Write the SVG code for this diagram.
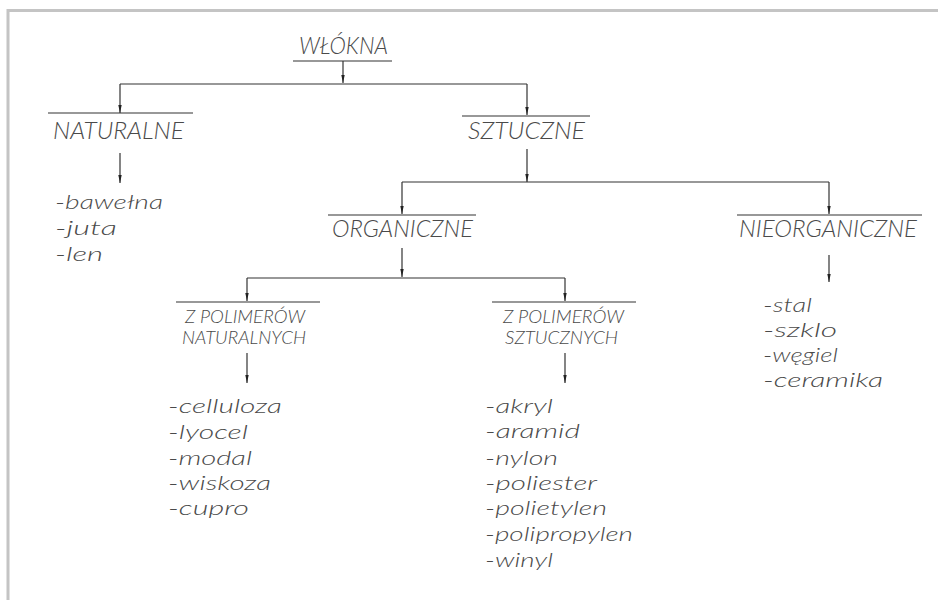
<svg xmlns="http://www.w3.org/2000/svg" width="938" height="600" viewBox="0 0 938 600">
<defs>
<marker id="ah" viewBox="0 0 8 4" refX="8" refY="2" markerWidth="8" markerHeight="4" markerUnits="userSpaceOnUse" orient="auto">
<path d="M0,0.3 L8,2 L0,3.7 Z" fill="#222"/>
</marker>
<style>
.t{font-family:"Lato","Roboto","Liberation Sans",sans-serif;font-style:italic;font-weight:300;fill:#4a4a4a}
.h{font-size:23px}
.s{font-size:17px}
.l{font-size:20px}
.ln{stroke:#333;stroke-width:1.2;fill:none}
.ar{stroke:#333;stroke-width:1.2;fill:none;marker-end:url(#ah)}
.fr{stroke:#c4c4c4;stroke-width:3;fill:none}
</style>
</defs>
<rect width="938" height="600" fill="#fff"/>
<path class="fr" d="M8,600 V10.5 H938"/>
<g id="connectors">
<path class="ar" d="M343,61 V83"/>
<path class="ln" d="M120,84 H527"/>
<path class="ar" d="M120,84 V113"/>
<path class="ar" d="M527,84 V115"/>
<path class="ar" d="M120,153 V183"/>
<path class="ar" d="M527,149 V182"/>
<path class="ln" d="M402,182 H829"/>
<path class="ar" d="M402,182 V214"/>
<path class="ar" d="M829,182 V214"/>
<path class="ar" d="M402,248 V277"/>
<path class="ln" d="M247,278 H565"/>
<path class="ar" d="M247,278 V301"/>
<path class="ar" d="M565,278 V301"/>
<path class="ar" d="M829,255 V282"/>
<path class="ar" d="M247,353 V383"/>
<path class="ar" d="M565,353 V383"/>
</g>
<g id="wlokna">
<text class="t h" x="299" y="54" textLength="89" lengthAdjust="spacingAndGlyphs">WŁÓKNA</text>
<path class="ln" d="M293,61 H392"/>
</g>
<g id="naturalne">
<path class="ln" d="M48,113 H193"/>
<text class="t h" x="53" y="139" textLength="131" lengthAdjust="spacingAndGlyphs">NATURALNE</text>
</g>
<g id="sztuczne">
<path class="ln" d="M462,116 H590"/>
<text class="t h" x="468" y="139" textLength="117" lengthAdjust="spacingAndGlyphs">SZTUCZNE</text>
</g>
<g id="naturalne-list">
<text class="t l" x="55" y="209" textLength="108" lengthAdjust="spacingAndGlyphs">-bawełna</text>
<text class="t l" x="55" y="235" textLength="62" lengthAdjust="spacingAndGlyphs">-juta</text>
<text class="t l" x="55" y="261" textLength="48" lengthAdjust="spacingAndGlyphs">-len</text>
</g>
<g id="organiczne">
<path class="ln" d="M328,215 H476"/>
<text class="t h" x="332" y="237" textLength="141" lengthAdjust="spacingAndGlyphs">ORGANICZNE</text>
</g>
<g id="nieorganiczne">
<path class="ln" d="M737,215 H922"/>
<text class="t h" x="739" y="237" textLength="178" lengthAdjust="spacingAndGlyphs">NIEORGANICZNE</text>
</g>
<g id="z-polimerow-naturalnych">
<path class="ln" d="M176,302 H320"/>
<text class="t s" x="185" y="323" textLength="120" lengthAdjust="spacingAndGlyphs">Z POLIMERÓW</text>
<text class="t s" x="182" y="344" textLength="124" lengthAdjust="spacingAndGlyphs">NATURALNYCH</text>
</g>
<g id="z-polimerow-sztucznych">
<path class="ln" d="M492,302 H636"/>
<text class="t s" x="503" y="323" textLength="121" lengthAdjust="spacingAndGlyphs">Z POLIMERÓW</text>
<text class="t s" x="505" y="344" textLength="113" lengthAdjust="spacingAndGlyphs">SZTUCZNYCH</text>
</g>
<g id="nieorganiczne-list">
<text class="t l" x="763" y="312" textLength="49" lengthAdjust="spacingAndGlyphs">-stal</text>
<text class="t l" x="763" y="337" textLength="74" lengthAdjust="spacingAndGlyphs">-szklo</text>
<text class="t l" x="763" y="362" textLength="75" lengthAdjust="spacingAndGlyphs">-węgiel</text>
<text class="t l" x="763" y="387" textLength="120" lengthAdjust="spacingAndGlyphs">-ceramika</text>
</g>
<g id="naturalnych-list">
<text class="t l" x="168" y="413" textLength="114" lengthAdjust="spacingAndGlyphs">-celluloza</text>
<text class="t l" x="168" y="439" textLength="80" lengthAdjust="spacingAndGlyphs">-lyocel</text>
<text class="t l" x="168" y="465" textLength="84" lengthAdjust="spacingAndGlyphs">-modal</text>
<text class="t l" x="168" y="490" textLength="103" lengthAdjust="spacingAndGlyphs">-wiskoza</text>
<text class="t l" x="168" y="515" textLength="81" lengthAdjust="spacingAndGlyphs">-cupro</text>
</g>
<g id="sztucznych-list">
<text class="t l" x="485" y="413" textLength="68" lengthAdjust="spacingAndGlyphs">-akryl</text>
<text class="t l" x="485" y="438" textLength="95" lengthAdjust="spacingAndGlyphs">-aramid</text>
<text class="t l" x="485" y="465" textLength="73" lengthAdjust="spacingAndGlyphs">-nylon</text>
<text class="t l" x="485" y="490" textLength="112" lengthAdjust="spacingAndGlyphs">-poliester</text>
<text class="t l" x="485" y="515" textLength="122" lengthAdjust="spacingAndGlyphs">-polietylen</text>
<text class="t l" x="485" y="541" textLength="148" lengthAdjust="spacingAndGlyphs">-polipropylen</text>
<text class="t l" x="485" y="567" textLength="68" lengthAdjust="spacingAndGlyphs">-winyl</text>
</g>
</svg>
